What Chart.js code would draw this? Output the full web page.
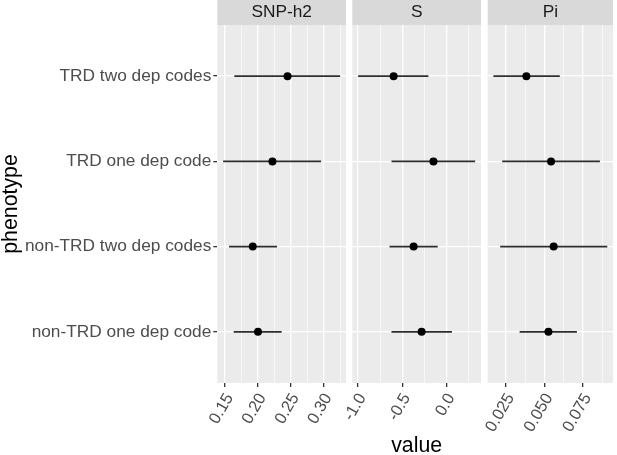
<!DOCTYPE html>
<html><head><meta charset="utf-8">
<script src="https://cdn.jsdelivr.net/npm/chart.js@4"></script>
<style>
html,body{margin:0;padding:0;background:#fff;}
#wrap{position:relative;width:617px;height:455px;overflow:hidden;}
#wrap canvas{position:absolute;left:0;top:0;}
</style></head><body>
<div id="wrap">
<canvas id="c1" width="617" height="455"></canvas>
<canvas id="c2" width="617" height="455"></canvas>
<canvas id="c3" width="617" height="455"></canvas>
</div>
<script>
// ---- data ----
const phenotypes = ["TRD two dep codes", "TRD one dep code", "non-TRD two dep codes", "non-TRD one dep code"];
const panelNames = ["SNP-h2", "S", "Pi"];

const snpEst  = [0.245, 0.222, 0.192, 0.200];
const snpLow  = [0.164, 0.147, 0.156, 0.163];
const snpHigh = [0.325, 0.296, 0.229, 0.236];

const sEst  = [-0.597, -0.149, -0.372, -0.282];
const sLow  = [-0.996, -0.621, -0.643, -0.621];
const sHigh = [-0.206, 0.320, -0.101, 0.059];

const piEst  = [0.0382, 0.0542, 0.0559, 0.0525];
const piLow  = [0.0168, 0.0225, 0.0212, 0.0338];
const piHigh = [0.0599, 0.0859, 0.0907, 0.0710];

const snpTicks = [0.15, 0.20, 0.25, 0.30];
const snpTickLabels = ["0.15", "0.20", "0.25", "0.30"];
const sTicks = [-1.0, -0.5, 0.0];
const sTickLabels = ["-1.0", "-0.5", "0.0"];
const piTicks = [0.025, 0.050, 0.075];
const piTickLabels = ["0.025", "0.050", "0.075"];

// ---- styling ----
const FONT = "'Liberation Sans', Arial, Helvetica, sans-serif";
Chart.defaults.font.family = FONT;
const TICK_COL = '#4D4D4D';
const TICKMARK_COL = '#333333';

const panelBg = {
  id: 'panelBg',
  beforeDraw(chart) {
    const {ctx, chartArea: a} = chart;
    ctx.save();
    ctx.fillStyle = '#EBEBEB';
    ctx.fillRect(a.left, a.top, a.right - a.left, a.bottom - a.top);
    ctx.fillStyle = '#D9D9D9';
    ctx.fillRect(a.left, 0, a.right - a.left, a.top);
    ctx.restore();
  }
};

function makeChart(id, p) {
  const lo = Math.min(...p.low), hi = Math.max(...p.high);
  const ex = (hi - lo) * 0.05;
  const xmin = lo - ex, xmax = hi + ex;
  // minor grid positions midway between major ticks (ggplot style)
  const step = p.ticks[1] - p.ticks[0];
  const all = [];
  for (let k = -1; k < p.ticks.length; k++) {
    const m = p.ticks[0] + step * (k + 0.5);
    if (m > xmin && m < xmax) all.push(m);
  }
  p.ticks.forEach(t => all.push(t));
  all.sort((a, b) => a - b);
  const isMajor = v => p.ticks.some(t => Math.abs(t - v) < 1e-9);
  const labelOf = v => { const i = p.ticks.findIndex(t => Math.abs(t - v) < 1e-9); return i >= 0 ? p.labels[i] : ''; };

  const datasets = [{
    data: p.est.map((v, i) => ({x: v, y: i})),
    pointRadius: 4, pointHoverRadius: 4,
    pointBackgroundColor: '#000', pointBorderWidth: 0, showLine: false
  }];
  phenotypes.forEach((ph, i) => {
    datasets.push({
      data: [{x: p.low[i], y: i}, {x: p.high[i], y: i}],
      showLine: true, borderColor: '#2E2E2E', borderWidth: 1.6,
      pointRadius: 0, pointHoverRadius: 0
    });
  });

  return new Chart(document.getElementById(id), {
    type: 'scatter',
    data: {datasets},
    plugins: [panelBg],
    options: {
      responsive: false, animation: false, events: [],
      layout: {padding: {left: p.padLeft, right: p.padRight, top: 0, bottom: 0}},
      plugins: {
        legend: {display: false}, tooltip: {enabled: false},
        title: {display: true, text: p.title, color: '#1A1A1A', fullSize: false,
          font: {size: 17.3, weight: 'normal', lineHeight: 25 / 17.3}, padding: 0}
      },
      scales: {
        x: {
          type: 'linear', min: xmin, max: xmax,
          afterBuildTicks(s) { s.ticks = all.map(v => ({value: v})); },
          afterFit(s) { s.height = 72; s.paddingLeft = 0; s.paddingRight = 0; },
          ticks: {callback: v => labelOf(v), autoSkip: false, minRotation: 60, maxRotation: 60,
            color: TICK_COL, font: {size: 16.5}, padding: 3, labelOffset: 4.5},
          grid: {color: '#FFFFFF',
            lineWidth: c => (c.tick && isMajor(c.tick.value)) ? 1.3 : 0.6,
            tickColor: c => (c.tick && isMajor(c.tick.value)) ? TICKMARK_COL : 'rgba(0,0,0,0)',
            tickLength: 4, drawTicks: true},
          border: {display: false},
          title: {display: !!p.xTitle, text: p.xTitle || '', color: '#000',
            font: {size: 21.3, lineHeight: 0.85}, padding: {top: 0, bottom: 0}}
        },
        y: {
          type: 'linear', min: -0.6, max: 3.6, reverse: true,
          afterBuildTicks(s) { s.ticks = phenotypes.map((ph, i) => ({value: i})); },
          afterFit(s) { s.width = p.showY ? 217.3 : 0; s.paddingTop = 0; s.paddingBottom = 0; },
          ticks: {display: p.showY, callback: v => phenotypes[v], autoSkip: false,
            color: TICK_COL, font: {size: 17.3}, padding: 2},
          grid: {color: '#FFFFFF', lineWidth: 1.3, drawTicks: p.showY,
            tickColor: TICKMARK_COL, tickLength: 4},
          border: {display: false},
          title: {display: p.showY, text: 'phenotype', color: '#000',
            font: {size: 21.3, lineHeight: 1}, padding: 0}
        }
      }
    }
  });
}

makeChart('c1', {est: snpEst, low: snpLow, high: snpHigh, ticks: snpTicks, labels: snpTickLabels,
  title: panelNames[0], padLeft: 0, padRight: 617 - 346, showY: true});
makeChart('c2', {est: sEst, low: sLow, high: sHigh, ticks: sTicks, labels: sTickLabels,
  title: panelNames[1], padLeft: 352.3, padRight: 617 - 481, showY: false, xTitle: 'value'});
makeChart('c3', {est: piEst, low: piLow, high: piHigh, ticks: piTicks, labels: piTickLabels,
  title: panelNames[2], padLeft: 487.7, padRight: 0.6, showY: false});
</script>
</body></html>
